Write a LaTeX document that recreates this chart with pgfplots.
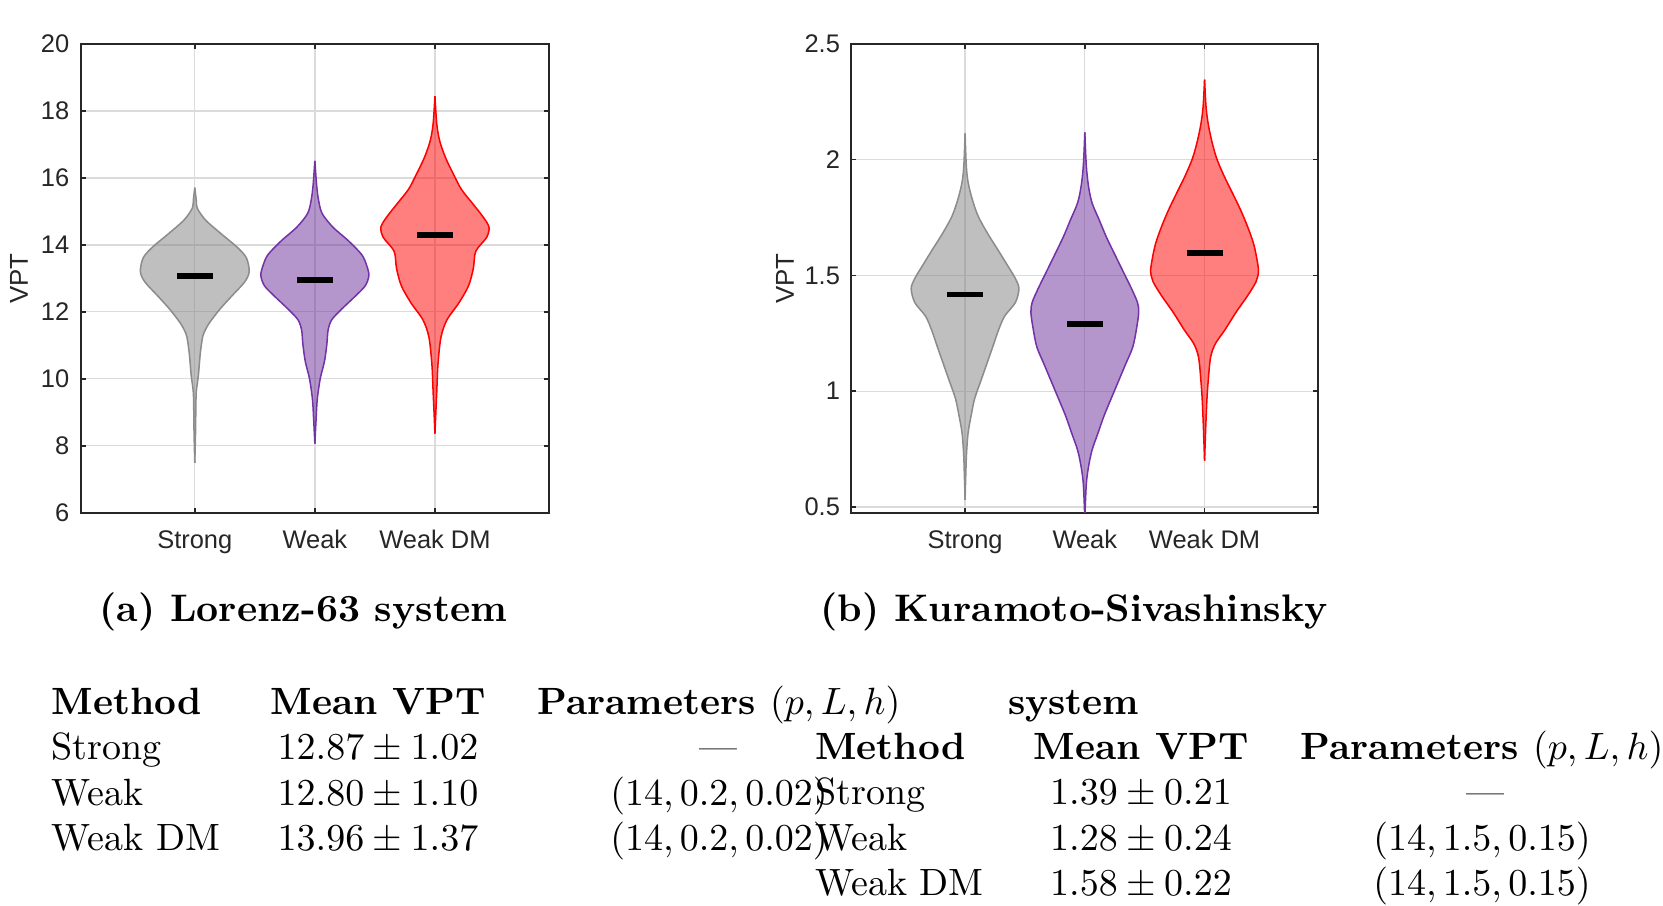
\documentclass[border=0pt]{standalone}
\usepackage{fontspec}
\usepackage{pgfplots}
\pgfplotsset{compat=1.18}
\usepackage{pgfplotstable}
\usepgfplotslibrary{fillbetween}

\newfontfamily\sansf{Liberation Sans}
\definecolor{axtext}{HTML}{262626}
\definecolor{vgray}{rgb}{0.5,0.5,0.5}
\definecolor{vgrayedge}{rgb}{0.55,0.55,0.55}
\definecolor{vpurple}{rgb}{0.42,0.18,0.60}
\definecolor{vpurpleedge}{rgb}{0.45,0.20,0.66}
\definecolor{vred}{rgb}{1,0,0}

% Violin outlines: value v and half-width w (in category units), bottom to top
\pgfplotstableread{
v w
7.49 0
8.36 0.006
9.39 0.010
9.70 0.015
10.11 0.030
10.73 0.045
11.14 0.060
11.35 0.074
11.65 0.118
12.07 0.207
12.48 0.310
12.89 0.415
13.20 0.453
13.61 0.430
13.92 0.356
14.33 0.220
14.74 0.090
15.10 0.020
15.35 0.012
15.71 0
}\lzStrong
\pgfplotstableread{
v w
8.06 0
8.78 0.010
9.39 0.020
10.01 0.045
10.52 0.080
11.04 0.100
11.45 0.110
11.76 0.140
12.07 0.220
12.48 0.340
12.78 0.420
13.09 0.450
13.40 0.430
13.71 0.390
14.12 0.280
14.53 0.150
14.94 0.060
15.35 0.030
15.77 0.015
16.51 0
}\lzWeak
\pgfplotstableread{
v w
8.36 0
8.88 0.006
9.60 0.015
10.42 0.025
11.24 0.050
11.76 0.100
12.27 0.200
12.78 0.280
13.30 0.320
13.81 0.340
14.22 0.430
14.53 0.450
14.84 0.400
15.25 0.310
15.66 0.220
16.07 0.160
16.59 0.090
17.10 0.040
17.62 0.015
18.44 0
}\lzWeakDM
\pgfplotstableread{
v w
0.530 0
0.641 0.006
0.730 0.012
0.819 0.025
0.893 0.050
0.968 0.080
1.042 0.130
1.116 0.180
1.190 0.230
1.265 0.280
1.324 0.330
1.383 0.420
1.443 0.450
1.487 0.420
1.547 0.350
1.606 0.280
1.680 0.190
1.755 0.110
1.829 0.060
1.903 0.025
1.977 0.010
2.114 0
}\ksStrong
\pgfplotstableread{
v w
0.450 0
0.596 0.012
0.671 0.030
0.745 0.060
0.819 0.110
0.893 0.160
0.968 0.220
1.042 0.280
1.116 0.340
1.190 0.400
1.265 0.430
1.339 0.450
1.383 0.440
1.443 0.390
1.517 0.320
1.591 0.250
1.666 0.180
1.740 0.120
1.814 0.060
1.888 0.030
1.977 0.012
2.118 0
}\ksWeak
\pgfplotstableread{
v w
0.700 0
0.849 0.010
0.968 0.020
1.042 0.030
1.146 0.050
1.205 0.090
1.265 0.170
1.339 0.260
1.413 0.360
1.473 0.430
1.517 0.450
1.562 0.440
1.636 0.410
1.710 0.360
1.784 0.300
1.859 0.230
1.933 0.160
2.007 0.100
2.081 0.060
2.156 0.030
2.230 0.012
2.346 0
}\ksWeakDM

% #1 table, #2 category position, #3 edge colour, #4 fill colour
\newcommand\violin[4]{%
  \addplot[name path=R#2, draw=#3, line width=0.4pt, smooth, forget plot]
    table[x expr=#2+\thisrow{w}, y=v] {#1};
  \addplot[name path=L#2, draw=#3, line width=0.4pt, smooth, forget plot]
    table[x expr=#2-\thisrow{w}, y=v] {#1};
  \addplot[fill=#4, fill opacity=0.5, draw=none, forget plot]
    fill between[of=R#2 and L#2];
}

\pgfplotsset{
  vpt/.style={
    scale only axis, set layers,
    height=123.34pt,
    xmin=0.05, xmax=3.95,
    xtick={1,2,3}, xticklabels={Strong,Weak,Weak DM},
    xmajorgrids, ymajorgrids,
    grid style={black!14, line width=0.35pt},
    axis line style={axtext, line width=0.5pt},
    tick style={axtext, line width=0.4pt},
    tick align=inside, major tick length=1.3pt,
    tick label style={font=\sansf\fontsize{6.7}{8}\selectfont, color=axtext},
    /pgf/number format/assume math mode=true,
    xticklabel style={anchor=base, yshift=-9.3pt},
    yticklabel style={anchor=east, inner sep=0pt, xshift=-2.8pt},
    ylabel={VPT},
    ylabel style={font=\sansf\fontsize{6.8}{8}\selectfont, color=axtext, anchor=center},
  }
}

\begin{document}
\begin{tikzpicture}

% Lorenz-63
\begin{axis}[vpt, at={(21.24pt,-134.92pt)}, anchor=south west,
  width=123.24pt, ymin=6, ymax=20, ytick={6,8,...,20},
  ylabel style={at={(axis description cs:-0.132,0.5)}}]
  \violin{\lzStrong}{1}{vgrayedge}{vgray}
  \violin{\lzWeak}{2}{vpurpleedge}{vpurple}
  \violin{\lzWeakDM}{3}{vred}{vred}
  \addplot[black, line width=1.5pt] coordinates {(0.85,13.07) (1.15,13.07)};
  \addplot[black, line width=1.5pt] coordinates {(1.85,12.96) (2.15,12.96)};
  \addplot[black, line width=1.5pt] coordinates {(2.85,14.30) (3.15,14.30)};
\end{axis}

% Kuramoto-Sivashinsky
\begin{axis}[vpt, at={(224.03pt,-134.92pt)}, anchor=south west,
  width=122.9pt, ymin=0.475, ymax=2.5, ytick={0.5,1,1.5,2,2.5},
  ylabel style={at={(axis description cs:-0.142,0.5)}}]
  \violin{\ksStrong}{1}{vgrayedge}{vgray}
  \violin{\ksWeak}{2}{vpurpleedge}{vpurple}
  \violin{\ksWeakDM}{3}{vred}{vred}
  \addplot[black, line width=1.5pt] coordinates {(0.85,1.418) (1.15,1.418)};
  \addplot[black, line width=1.5pt] coordinates {(1.85,1.290) (2.15,1.290)};
  \addplot[black, line width=1.5pt] coordinates {(2.85,1.596) (3.15,1.596)};
\end{axis}

\begin{scope}[x=0.26316pt, y=-0.26316pt, every node/.style={inner sep=0pt}]
  % sub-captions
  \node[anchor=base west] at (99,622) {\fontsize{10.1}{12}\selectfont\bfseries (a) Lorenz-63 system};
  \node[anchor=base west] at (820,622) {\fontsize{10.1}{12}\selectfont\bfseries (b) Kuramoto-Sivashinsky};

  % first table
  \node[anchor=base west] at (51,715) {\bfseries Method};
  \node[anchor=base] at (378,715) {\bfseries Mean VPT};
  \node[anchor=base] at (719,715) {\bfseries Parameters $(p,L,h)$};
  \node[anchor=base west] at (51,760) {Strong};
  \node[anchor=base west] at (51,805.5) {Weak};
  \node[anchor=base west] at (51,851) {Weak DM};
  \node[anchor=base] at (378,760) {$12.87 \pm 1.02$};
  \node[anchor=base] at (378,805.5) {$12.80 \pm 1.10$};
  \node[anchor=base] at (378,851) {$13.96 \pm 1.37$};
  \node[anchor=base] at (719,760) {---};
  \node[anchor=base] at (719,805.5) {$(14, 0.2, 0.02)$};
  \node[anchor=base] at (719,851) {$(14, 0.2, 0.02)$};

  % second table
  \node[anchor=base west] at (1007.6,715) {\bfseries system};
  \node[anchor=base west] at (814.5,759.5) {\bfseries Method};
  \node[anchor=base] at (1141,759.5) {\bfseries Mean VPT};
  \node[anchor=base] at (1482,759.5) {\bfseries Parameters $(p,L,h)$};
  \node[anchor=base west] at (814.5,805) {Strong};
  \node[anchor=base west] at (814.5,850.5) {Weak};
  \node[anchor=base west] at (814.5,896) {Weak DM};
  \node[anchor=base] at (1141,805) {$1.39 \pm 0.21$};
  \node[anchor=base] at (1141,850.5) {$1.28 \pm 0.24$};
  \node[anchor=base] at (1141,896) {$1.58 \pm 0.22$};
  \node[anchor=base] at (1486,805) {---};
  \node[anchor=base] at (1482,850.5) {$(14, 1.5, 0.15)$};
  \node[anchor=base] at (1482,896) {$(14, 1.5, 0.15)$};
\end{scope}

% fixed page frame
\pgfresetboundingbox
\path[use as bounding box] (0pt,0pt) rectangle (437.63pt,-238.16pt);
\end{tikzpicture}
\end{document}
